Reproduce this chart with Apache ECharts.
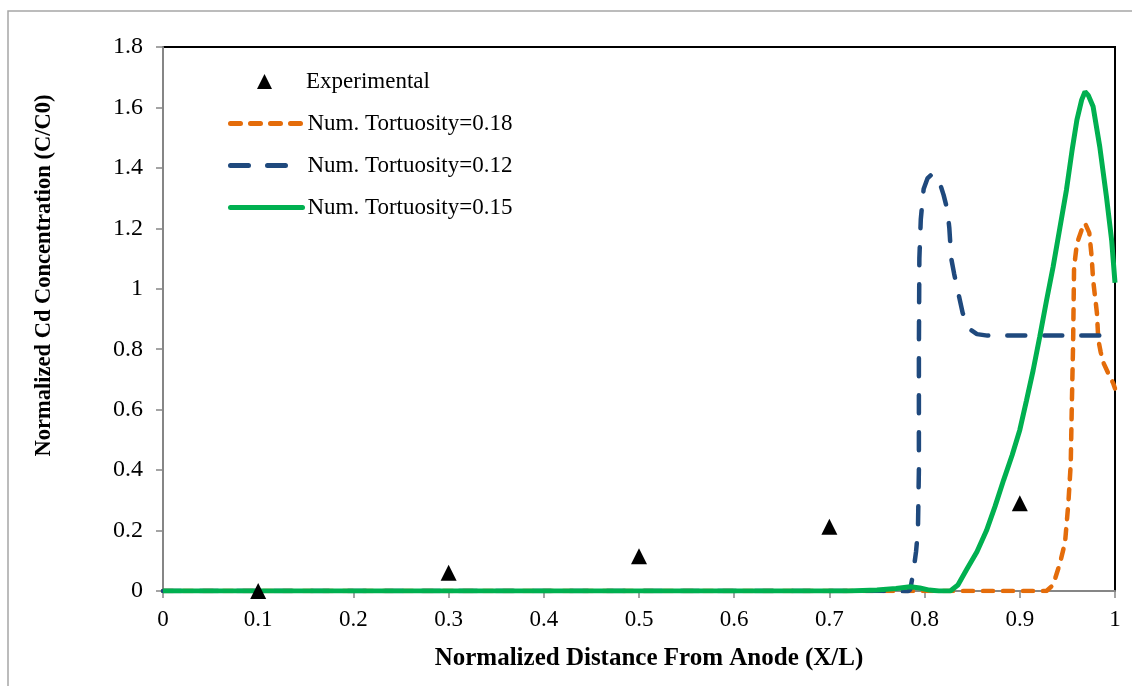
<!DOCTYPE html>
<html>
<head>
<meta charset="utf-8">
<script src="https://cdn.jsdelivr.net/npm/echarts@6/dist/echarts.min.js"></script>
<style>
html,body{margin:0;padding:0;background:#fff;}
#chart{width:1132px;height:686px;}
</style>
</head>
<body>
<div id="chart"></div>
<script>
// ---- data ----
const expX = [0.1, 0.3, 0.5, 0.7, 0.9];
const expY = [0.0, 0.06, 0.115, 0.213, 0.29];

const t18X = [0, 0.928, 0.935, 0.942, 0.9475, 0.951, 0.9535, 0.9545, 0.956, 0.957, 0.960, 0.965, 0.9685, 0.973, 0.9755, 0.977, 0.981, 0.9825, 0.985, 0.988, 0.993, 0.998, 1.0];
const t18Y = [0, 0, 0.02, 0.09, 0.16, 0.29, 0.42, 0.59, 0.82, 1.07, 1.15, 1.195, 1.217, 1.185, 1.105, 1.03, 0.92, 0.83, 0.79, 0.754, 0.72, 0.688, 0.67];

const t12X = [0, 0.77, 0.782, 0.785, 0.788, 0.791, 0.793, 0.794, 0.794, 0.7945, 0.796, 0.799, 0.803, 0.808, 0.812, 0.816, 0.820, 0.824, 0.826, 0.828, 0.831, 0.834, 0.840, 0.844, 0.848, 0.855, 0.866, 1.0];
const t12Y = [0, 0, -0.003, 0.005, 0.06, 0.13, 0.2, 0.4, 0.8, 1.1, 1.23, 1.33, 1.365, 1.38, 1.375, 1.35, 1.31, 1.26, 1.2, 1.1, 1.05, 1.006, 0.92, 0.885, 0.865, 0.85, 0.845, 0.845];

const t15X = [0, 0.72, 0.75, 0.77, 0.785, 0.795, 0.805, 0.815, 0.827, 0.835, 0.844, 0.855, 0.865, 0.874, 0.883, 0.892, 0.900, 0.907, 0.914, 0.921, 0.928, 0.935, 0.942, 0.949, 0.955, 0.960, 0.965, 0.9685, 0.972, 0.977, 0.984, 0.991, 0.9965, 1.0];
const t15Y = [0, 0, 0.003, 0.008, 0.014, 0.01, 0.003, 0, 0, 0.02, 0.07, 0.13, 0.2, 0.28, 0.367, 0.45, 0.533, 0.63, 0.73, 0.842, 0.96, 1.073, 1.2, 1.327, 1.46, 1.559, 1.625, 1.652, 1.64, 1.603, 1.47, 1.305, 1.16, 1.02];

const seriesNames = ['Experimental', 'Num. Tortuosity=0.18', 'Num. Tortuosity=0.12', 'Num. Tortuosity=0.15'];
const xTicks = [0, 0.1, 0.2, 0.3, 0.4, 0.5, 0.6, 0.7, 0.8, 0.9, 1];
const yTicks = [0, 0.2, 0.4, 0.6, 0.8, 1, 1.2, 1.4, 1.6, 1.8];

const zip = (xs, ys) => xs.map((x, i) => [x, ys[i]]);

const FONT = "'Liberation Serif', 'Times New Roman', serif";
const ORANGE = '#E46C0A', BLUE = '#1F497D', GREEN = '#00B050';
const DASH18 = [10, 10], DASH12 = [18, 19];
const HIDDEN = {color: 'rgba(0,0,0,0)', borderColor: 'rgba(0,0,0,0)', borderWidth: 0};

const chart = echarts.init(document.getElementById('chart'));
chart.setOption({
  animation: false,
  backgroundColor: '#fff',
  graphic: [{
    type: 'rect',
    shape: {x: 8, y: 11, width: 1300, height: 1000},
    style: {fill: 'none', stroke: '#a6a6a6', lineWidth: 1.5},
    silent: true, z: -10
  }],
  grid: {
    left: 163, right: 17, top: 47, bottom: 95,
    show: true, borderColor: '#000', borderWidth: 2, backgroundColor: 'transparent'
  },
  legend: [
    {
      left: 257, top: 70, padding: 0, orient: 'vertical',
      itemWidth: 15, itemHeight: 15, itemGap: 19,
      textStyle: {fontFamily: FONT, fontSize: 23, color: '#000', padding: [0, 0, 0, 29]},
      data: [{name: seriesNames[0], icon: 'triangle', itemStyle: {color: '#000', opacity: 1}}]
    },
    {
      left: 228, top: 112, padding: 0, orient: 'vertical',
      itemWidth: 72, itemHeight: 14, itemGap: 19,
      textStyle: {fontFamily: FONT, fontSize: 23, color: '#000'},
      data: [
        {name: seriesNames[1], itemStyle: HIDDEN, lineStyle: {color: ORANGE, width: 5, type: DASH18, cap: 'round'}},
        {name: seriesNames[2], itemStyle: HIDDEN, lineStyle: {color: BLUE, width: 5, type: DASH12, cap: 'round'}},
        {name: seriesNames[3], itemStyle: HIDDEN, lineStyle: {color: GREEN, width: 5, cap: 'round'}}
      ]
    }
  ],
  xAxis: {
    type: 'value', min: 0, max: 1, interval: 0.1,
    axisLine: {show: true, onZero: false, lineStyle: {color: '#868686', width: 2}},
    axisTick: {show: true, length: 7, inside: false, lineStyle: {color: '#868686', width: 1.5}},
    splitLine: {show: false},
    axisLabel: {fontFamily: FONT, fontSize: 23, color: '#000', margin: 17,
      formatter: v => String(Math.round(v * 10) / 10)},
    name: 'Normalized Distance From Anode (X/L)', nameLocation: 'middle', nameGap: 55,
    nameTextStyle: {fontFamily: FONT, fontSize: 25, fontWeight: 'bold', color: '#000', padding: [0, 0, 0, 20]}
  },
  yAxis: {
    type: 'value', min: 0, max: 1.8, interval: 0.2,
    axisLine: {show: true, onZero: false, lineStyle: {color: '#868686', width: 2}},
    axisTick: {show: true, length: 7, inside: false, lineStyle: {color: '#868686', width: 1.5}},
    splitLine: {show: false},
    axisLabel: {fontFamily: FONT, fontSize: 24, color: '#000', margin: 20,
      formatter: v => String(Math.round(v * 10) / 10)},
    name: 'Normalized Cd Concentration (C/C0)', nameLocation: 'middle', nameGap: 107,
    nameTextStyle: {fontFamily: FONT, fontSize: 22.5, fontWeight: 'bold', color: '#000', padding: [0, 0, 0, 87]}
  },
  series: [
    {
      name: seriesNames[0], type: 'scatter', symbol: 'triangle', symbolSize: 16,
      itemStyle: {color: '#000', opacity: 1}, data: zip(expX, expY), z: 5
    },
    {
      name: seriesNames[1], type: 'line', symbol: 'none', showSymbol: false,
      lineStyle: {color: ORANGE, width: 4.5, type: DASH18, cap: 'round'},
      itemStyle: {color: ORANGE},
      data: zip(t18X, t18Y), z: 2
    },
    {
      name: seriesNames[2], type: 'line', symbol: 'none', showSymbol: false,
      lineStyle: {color: BLUE, width: 4.5, type: DASH12, cap: 'round'},
      itemStyle: {color: BLUE},
      data: zip(t12X, t12Y), z: 3
    },
    {
      name: seriesNames[3], type: 'line', symbol: 'none', showSymbol: false,
      lineStyle: {color: GREEN, width: 5},
      itemStyle: {color: GREEN},
      data: zip(t15X, t15Y), z: 4
    }
  ]
});
</script>
</body>
</html>
